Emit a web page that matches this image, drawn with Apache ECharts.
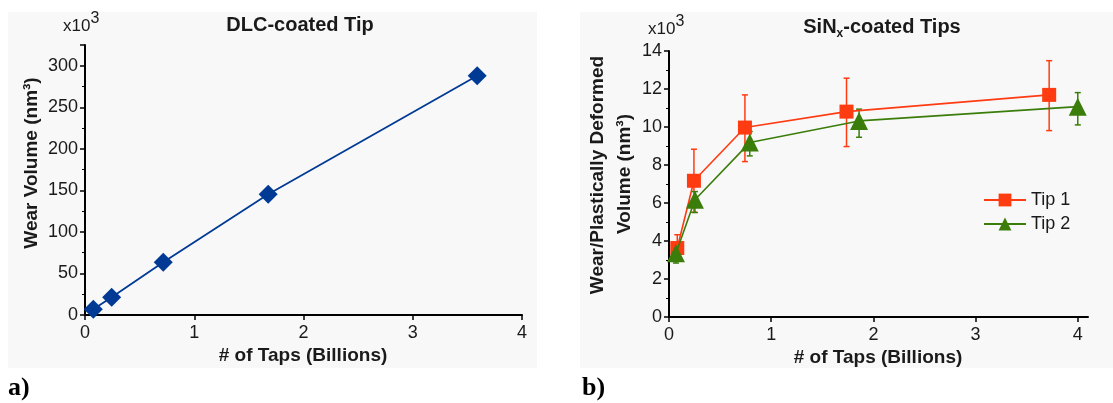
<!DOCTYPE html>
<html>
<head>
<meta charset="utf-8">
<script src="https://cdn.jsdelivr.net/npm/echarts@6/dist/echarts.min.js"></script>
<style>
html,body{margin:0;padding:0;background:#fff;}
#c{width:1113px;height:403px;}
</style>
</head>
<body>
<div id="c"></div>
<script>
// ---- data ----
var dlcTaps   = [0.076, 0.244, 0.716, 1.677, 3.59];
var dlcVolume = [7, 21.3, 63.5, 145.4, 288];

var tip1Taps = [0.081, 0.244, 0.743, 1.737, 3.72];
var tip1Vol  = [3.63, 7.17, 9.97, 10.81, 11.69];
var tip1Low  = [2.93, 5.51, 8.18, 8.97, 9.81];
var tip1High = [4.33, 8.83, 11.69, 12.57, 13.49];

var tip2Taps = [0.068, 0.254, 0.79, 1.86, 4.0];
var tip2Vol  = [3.36, 6.17, 9.18, 10.32, 11.07];
var tip2Low  = [2.84, 5.5, 8.48, 9.46, 10.11];
var tip2High = [3.9, 6.6, 9.76, 10.94, 11.81];

var leftXTicks  = [0, 1, 2, 3, 4];
var leftYTicks  = [0, 50, 100, 150, 200, 250, 300];
var rightXTicks = [0, 1, 2, 3, 4];
var rightYTicks = [0, 2, 4, 6, 8, 10, 12, 14];

var BLUE = '#003a94', RED = '#ff3b12', GREEN = '#3b7d0a';
var FONT = 'Liberation Sans, Arial, sans-serif';
var TXT = '#1a1a1a';

function pairs(xs, ys){ return xs.map(function(x,i){ return [x, ys[i]]; }); }
function errData(xs, lo, hi){ return xs.map(function(x,i){ return [x, lo[i], hi[i]]; }); }

function errSeries(xi, yi, data, color){
  return {
    type: 'custom', xAxisIndex: xi, yAxisIndex: yi, data: data, z: 1, silent: true,
    renderItem: function(params, api){
      var x = api.value(0);
      var p1 = api.coord([x, api.value(1)]);
      var p2 = api.coord([x, api.value(2)]);
      var w = 3;
      var st = {stroke: color, lineWidth: 1.5, fill: null};
      return {type: 'group', children: [
        {type: 'line', shape: {x1: p1[0], y1: p1[1], x2: p2[0], y2: p2[1]}, style: st},
        {type: 'line', shape: {x1: p1[0]-w, y1: p1[1], x2: p1[0]+w, y2: p1[1]}, style: st},
        {type: 'line', shape: {x1: p2[0]-w, y1: p2[1], x2: p2[0]+w, y2: p2[1]}, style: st}
      ]};
    }
  };
}

function ax(extra){
  var base = {
    axisLine: {onZero: false, lineStyle: {color: '#000', width: 2}},
    axisTick: {show: true, length: 5, lineStyle: {color: '#000', width: 1.5}},
    splitLine: {show: false}
  };
  return Object.assign(base, extra);
}
function lab(margin, extra){
  return Object.assign({color: TXT, fontSize: 18, fontFamily: FONT, margin: margin}, extra || {});
}

var chart = echarts.init(document.getElementById('c'), null, {renderer: 'canvas'});
var option = {
  backgroundColor: '#ffffff',
  animation: false,
  grid: [
    {left: 85, top: 45, width: 437, height: 270},
    {left: 669, top: 51, width: 419, height: 266}
  ],
  xAxis: [
    ax({gridIndex: 0, type: 'value', min: leftXTicks[0], max: leftXTicks[leftXTicks.length-1], interval: 1,
        axisLabel: lab(9)}),
    ax({gridIndex: 1, type: 'value', min: rightXTicks[0], max: 4.1, interval: 1,
        axisLabel: lab(9, {showMaxLabel: false})})
  ],
  yAxis: [
    ax({gridIndex: 0, type: 'value', min: leftYTicks[0], max: 325, interval: 50,
        minorTick: {show: true, splitNumber: 2, length: 3, lineStyle: {color: '#000', width: 1}},
        axisLabel: lab(7, {showMaxLabel: false})}),
    ax({gridIndex: 1, type: 'value', min: rightYTicks[0], max: rightYTicks[rightYTicks.length-1], interval: 2,
        minorTick: {show: true, splitNumber: 2, length: 3, lineStyle: {color: '#000', width: 1}},
        axisLabel: lab(7)})
  ],
  legend: {
    orient: 'vertical', left: 978, top: 186, itemWidth: 42, itemHeight: 16, itemGap: 6,
    textStyle: {fontSize: 18, fontFamily: FONT, color: TXT},
    data: ['Tip 1', 'Tip 2']
  },
  series: [
    {name: 'DLC', type: 'line', xAxisIndex: 0, yAxisIndex: 0, data: pairs(dlcTaps, dlcVolume),
     symbol: 'diamond', symbolSize: 19, itemStyle: {color: BLUE}, lineStyle: {color: BLUE, width: 1.8}, z: 3},
    errSeries(1, 1, errData(tip1Taps, tip1Low, tip1High), RED),
    errSeries(1, 1, errData(tip2Taps, tip2Low, tip2High), GREEN),
    {name: 'Tip 1', type: 'line', xAxisIndex: 1, yAxisIndex: 1, data: pairs(tip1Taps, tip1Vol),
     symbol: 'rect', symbolSize: 14, itemStyle: {color: RED}, lineStyle: {color: RED, width: 1.6}, z: 3},
    {name: 'Tip 2', type: 'line', xAxisIndex: 1, yAxisIndex: 1, data: pairs(tip2Taps, tip2Vol),
     symbol: 'triangle', symbolSize: 18, itemStyle: {color: GREEN}, lineStyle: {color: GREEN, width: 1.6}, z: 4}
  ],
  graphic: [
    {type: 'rect', z: -10, shape: {x: 8, y: 12, width: 529, height: 356}, style: {fill: '#f8f8f8'}},
    {type: 'rect', z: -10, shape: {x: 580, y: 12, width: 533, height: 356}, style: {fill: '#f8f8f8'}},
    {type: 'text', x: 300, y: 25, style: {text: 'DLC-coated Tip', font: 'bold 20px ' + FONT, fill: TXT, align: 'center', verticalAlign: 'middle'}},
    {type: 'text', x: 882, y: 27, style: {
      text: '{b|SiN}{s|x}{b|-coated Tips}', align: 'center', verticalAlign: 'middle',
      rich: {b: {font: 'bold 20px ' + FONT, fill: TXT}, s: {font: 'bold 12px ' + FONT, fill: TXT, padding: [13, 0, 0, 0]}}}},
    {type: 'text', x: 63, y: 23, style: {
      text: '{n|x10}{p|3}', verticalAlign: 'middle',
      rich: {n: {fontSize: 17, fontFamily: FONT, fill: TXT, padding: [7, 0, 0, 0]}, p: {fontSize: 16, fontFamily: FONT, fill: TXT, padding: [0, 0, 8, 0]}}}},
    {type: 'text', x: 648, y: 26, style: {
      text: '{n|x10}{p|3}', verticalAlign: 'middle',
      rich: {n: {fontSize: 17, fontFamily: FONT, fill: TXT, padding: [7, 0, 0, 0]}, p: {fontSize: 16, fontFamily: FONT, fill: TXT, padding: [0, 0, 8, 0]}}}},
    {type: 'text', x: 32, y: 163, rotation: Math.PI/2, style: {text: 'Wear Volume (nm³)', font: 'bold 19px ' + FONT, fill: TXT, align: 'center', verticalAlign: 'middle'}},
    {type: 'text', x: 598, y: 175, rotation: Math.PI/2, style: {text: 'Wear/Plastically Deformed', font: 'bold 19px ' + FONT, fill: TXT, align: 'center', verticalAlign: 'middle'}},
    {type: 'text', x: 625, y: 174, rotation: Math.PI/2, style: {text: 'Volume (nm³)', font: 'bold 19px ' + FONT, fill: TXT, align: 'center', verticalAlign: 'middle'}},
    {type: 'text', x: 303, y: 356, style: {text: '# of Taps (Billions)', font: 'bold 19px ' + FONT, fill: TXT, align: 'center', verticalAlign: 'middle'}},
    {type: 'text', x: 878, y: 358, style: {text: '# of Taps (Billions)', font: 'bold 19px ' + FONT, fill: TXT, align: 'center', verticalAlign: 'middle'}},
    {type: 'text', x: 8, y: 388, style: {text: 'a)', font: 'bold 26px Liberation Serif, Times New Roman, serif', fill: '#000', verticalAlign: 'middle'}},
    {type: 'text', x: 582, y: 388, style: {text: 'b)', font: 'bold 26px Liberation Serif, Times New Roman, serif', fill: '#000', verticalAlign: 'middle'}}
  ]
};
chart.setOption(option);
</script>
</body>
</html>
